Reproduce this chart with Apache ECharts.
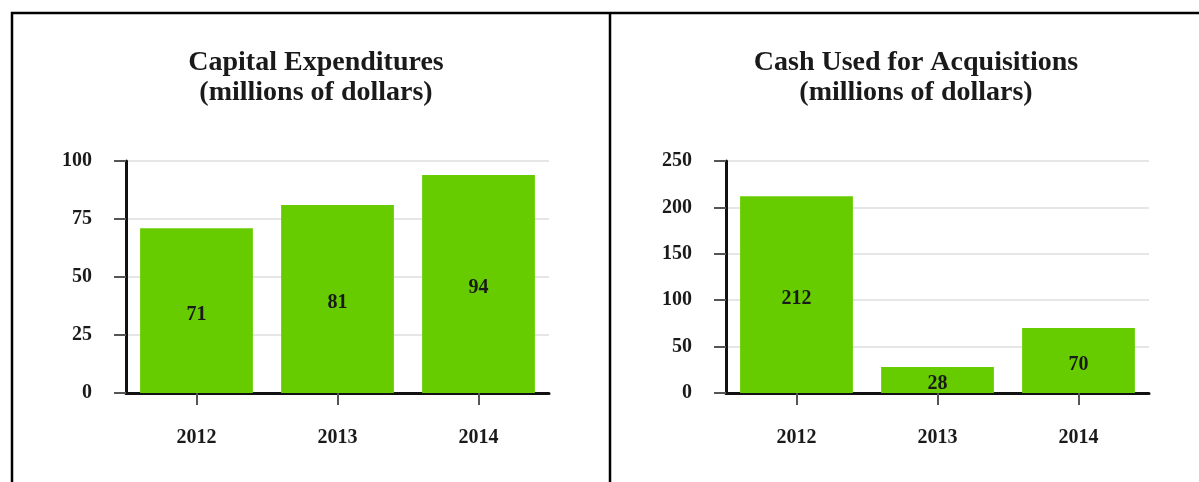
<!DOCTYPE html>
<html>
<head>
<meta charset="utf-8">
<script src="https://cdn.jsdelivr.net/npm/echarts@6/dist/echarts.min.js"></script>
<style>
html,body{margin:0;padding:0;background:#fff;}
#chart{width:1199px;height:482px;}
</style>
</head>
<body>
<div id="chart"></div>
<script>
const years = ['2012', '2013', '2014'];
const capexValues = [71, 81, 94];
const acquisitionValues = [212, 28, 70];
const capexTitle = 'Capital Expenditures\n(millions of dollars)';
const acqTitle = 'Cash Used for Acquisitions\n(millions of dollars)';
const capexTicks = { min: 0, max: 100, interval: 25 };
const acqTicks = { min: 0, max: 250, interval: 50 };

const FONT = '"Liberation Serif", "Times New Roman", serif';
const GREEN = '#66cc00';
const TXT = '#1a1a1a';

function xAxis(gi) {
  return {
    type: 'category', gridIndex: gi, data: years,
    axisLine: { show: true, lineStyle: { color: '#111', width: 3 } },
    axisTick: { show: true, alignWithLabel: true, length: 12, lineStyle: { color: '#555', width: 2 } },
    axisLabel: { margin: 35, fontFamily: FONT, fontWeight: 'bold', fontSize: 20, color: TXT },
    splitLine: { show: false }
  };
}
function yAxis(gi, t) {
  return {
    type: 'value', gridIndex: gi, min: t.min, max: t.max, interval: t.interval,
    axisLine: { show: true, lineStyle: { color: '#111', width: 3 } },
    axisTick: { show: true, length: 12, lineStyle: { color: '#555', width: 2 } },
    axisLabel: { margin: 34, fontFamily: FONT, fontWeight: 'bold', fontSize: 20, color: TXT },
    splitLine: { show: true, lineStyle: { color: '#e6e6e6', width: 2 } }
  };
}
function barSeries(i, data) {
  return {
    type: 'bar', xAxisIndex: i, yAxisIndex: i, data: data,
    barCategoryGap: '20%',
    itemStyle: { color: GREEN },
    label: { show: true, position: 'inside', offset: [0, 4], fontFamily: FONT, fontWeight: 'bold', fontSize: 20, color: TXT },
    emphasis: { disabled: true }
  };
}

const chart = echarts.init(document.getElementById('chart'), null, { renderer: 'canvas' });
chart.setOption({
  animation: false,
  backgroundColor: '#fff',
  title: [
    { text: capexTitle, left: 311, top: 43, textAlign: 'center',
      textStyle: { fontFamily: FONT, fontWeight: 'bold', fontSize: 28, lineHeight: 30, color: TXT, align: 'center' } },
    { text: acqTitle, left: 911, top: 43, textAlign: 'center',
      textStyle: { fontFamily: FONT, fontWeight: 'bold', fontSize: 28, lineHeight: 30, color: TXT, align: 'center' } }
  ],
  grid: [
    { left: 126, top: 161, width: 423, height: 232 },
    { left: 726, top: 161, width: 423, height: 232 }
  ],
  xAxis: [xAxis(0), xAxis(1)],
  yAxis: [yAxis(0, capexTicks), yAxis(1, acqTicks)],
  series: [barSeries(0, capexValues), barSeries(1, acquisitionValues)],
  graphic: [
    { type: 'line', shape: { x1: 11, y1: 13, x2: 1199, y2: 13 }, style: { stroke: '#000', lineWidth: 2.5 } },
    { type: 'line', shape: { x1: 12, y1: 12, x2: 12, y2: 482 }, style: { stroke: '#000', lineWidth: 2.5 } },
    { type: 'line', shape: { x1: 610, y1: 12, x2: 610, y2: 482 }, style: { stroke: '#000', lineWidth: 2.5 } }
  ]
});
</script>
</body>
</html>
